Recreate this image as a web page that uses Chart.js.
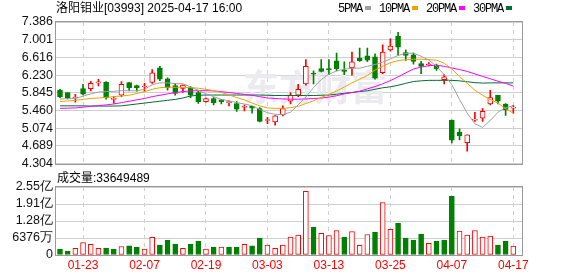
<!DOCTYPE html>
<html>
<head>
<meta charset="utf-8">
<title>洛阳钼业 K线</title>
<script src="https://cdn.jsdelivr.net/npm/chart.js@4.4.1/dist/chart.umd.min.js"></script>
<style>
  body { margin: 0; background: #fff; }
  #wrap { position: relative; width: 578px; height: 276px; overflow: hidden;
          font-family: 'Liberation Sans', Arial, 'Noto Sans CJK SC', sans-serif; color: #000; }
  #wrap canvas { position: absolute; left: 0; }
  #kline { top: 0; }
  #vol { top: 172px; }
  #title { position: absolute; left: 56px; top: 0; font-size: 12px; line-height: 16px; white-space: nowrap; }
  #volLabel { position: absolute; left: 57px; top: 170px; font-size: 12px; line-height: 16px; white-space: nowrap; }
  #legend { position: absolute; left: 338px; top: 1px; display: flex; gap: 8px;
            font-family: 'Liberation Mono', monospace; font-size: 12px; line-height: 16px; white-space: nowrap; }
  #legend span { letter-spacing: -1.2px; }
  #legend i { display: inline-block; width: 6px; height: 4px; margin-left: 3px; vertical-align: 2px; }
</style>
</head>
<body>
<div id="wrap">
  <canvas id="kline" width="578" height="174"></canvas>
  <canvas id="vol" width="578" height="104"></canvas>
  <div id="title"></div>
  <div id="legend"></div>
  <div id="volLabel"></div>
</div>
<script>
const stockTitle = '洛阳钼业[03993] 2025-04-17 16:00';

const dates = ['01-20','01-21','01-22','01-23','01-24','01-27','01-28',
  '02-03','02-04','02-05','02-06','02-07','02-10','02-11','02-12','02-13','02-14',
  '02-17','02-18','02-19','02-20','02-21','02-24','02-25','02-26','02-27','02-28',
  '03-03','03-04','03-05','03-06','03-07','03-10','03-11','03-12','03-13','03-14',
  '03-17','03-18','03-19','03-20','03-21','03-24','03-25','03-26','03-27','03-28','03-31',
  '04-01','04-02','04-03','04-07','04-08','04-09','04-10','04-11','04-14','04-15','04-16','04-17'];
const axisDates = ['01-23','02-07','02-19','03-03','03-13','03-25','04-07','04-17'];

const open = [5.905,5.85,5.73,5.936,5.936,6.06,6.07,5.70,5.791,6.065,
  6.00,5.97,6.07,6.39,6.15,6.00,5.94,5.96,5.85,5.65,
  5.72,5.69,5.63,5.61,5.53,5.548,5.50,5.24,5.21,5.36,
  5.66,5.79,6.04,6.27,6.37,6.36,6.54,6.33,6.39,6.60,
  6.65,6.63,6.28,6.78,7.08,6.72,6.67,6.48,6.45,6.44,
  6.13,5.25,4.99,4.76,5.25,5.29,5.60,5.79,5.60,5.51];
const high = [5.92,5.85,5.81,6.03,6.093,6.136,6.09,5.76,6.09,6.07,
  6.01,6.05,6.35,6.42,6.17,6.05,6.02,5.98,5.88,5.73,
  5.74,5.70,5.67,5.65,5.58,5.55,5.52,5.31,5.35,5.56,
  5.85,6.03,6.57,6.32,6.57,6.57,6.71,6.52,6.73,6.82,
  6.82,6.69,6.89,7.02,7.16,6.78,6.71,6.53,6.50,6.47,
  6.24,5.25,5.06,4.93,5.42,5.50,5.90,5.79,5.61,5.57];
const low = [5.74,5.71,5.64,5.80,5.884,5.992,5.705,5.61,5.76,5.884,
  5.88,5.88,6.05,6.11,5.90,5.79,5.85,5.74,5.61,5.64,
  5.58,5.60,5.56,5.44,5.45,5.40,5.21,5.17,5.14,5.34,
  5.60,5.76,6.01,6.04,6.30,6.24,6.32,6.24,6.23,6.53,
  6.52,6.14,6.26,6.75,6.66,6.55,6.47,6.26,6.43,6.33,
  6.04,4.75,4.82,4.57,5.22,5.22,5.58,5.60,5.35,5.40];
const close = [5.755,5.727,5.75,5.813,6.05,6.07,5.73,5.71,6.028,5.957,
  5.95,5.99,6.28,6.14,5.95,5.83,6.01,5.79,5.65,5.72,
  5.63,5.65,5.64,5.49,5.54,5.51,5.22,5.25,5.34,5.50,
  5.79,5.92,6.42,6.25,6.31,6.35,6.37,6.31,6.52,6.545,
  6.555,6.16,6.73,6.86,6.84,6.66,6.53,6.42,6.46,6.37,
  6.19,4.81,4.91,4.93,5.26,5.44,5.74,5.66,5.47,5.53];

const ma5 = [5.71,5.715,5.72,5.77,5.82,5.86,5.87,5.875,5.89,5.89,
  5.885,5.92,6.02,6.06,6.06,6.045,6.04,5.97,5.90,5.82,
  5.76,5.70,5.67,5.63,5.60,5.565,5.48,5.41,5.375,5.37,
  5.42,5.58,5.75,5.96,6.13,6.25,6.32,6.36,6.38,6.38,
  6.42,6.46,6.51,6.58,6.66,6.70,6.71,6.64,6.56,6.42,
  6.24,6.02,5.70,5.40,5.17,5.09,5.24,5.42,5.52,5.56];
const ma10 = [5.655,5.665,5.68,5.70,5.72,5.73,5.745,5.76,5.775,5.79,
  5.83,5.87,5.92,5.955,5.965,5.965,5.96,5.955,5.945,5.92,
  5.89,5.85,5.80,5.74,5.69,5.62,5.56,5.515,5.505,5.505,
  5.52,5.55,5.61,5.67,5.74,5.81,5.88,5.97,6.06,6.14,
  6.22,6.34,6.42,6.50,6.545,6.565,6.575,6.575,6.565,6.555,
  6.49,6.36,6.20,6.05,5.90,5.79,5.70,5.62,5.50,5.40];
const ma20 = [5.505,5.51,5.515,5.53,5.55,5.565,5.58,5.60,5.63,5.66,
  5.69,5.72,5.76,5.79,5.82,5.85,5.87,5.885,5.89,5.89,
  5.885,5.87,5.85,5.83,5.81,5.79,5.76,5.73,5.72,5.71,
  5.705,5.705,5.71,5.72,5.73,5.75,5.78,5.82,5.85,5.88,
  5.93,5.98,6.04,6.11,6.19,6.28,6.36,6.405,6.435,6.445,
  6.42,6.385,6.35,6.31,6.255,6.20,6.15,6.095,6.05,5.99];
const ma30 = [5.56,5.56,5.56,5.56,5.555,5.555,5.555,5.555,5.56,5.58,
  5.60,5.62,5.64,5.66,5.68,5.70,5.73,5.775,5.79,5.795,
  5.795,5.795,5.795,5.795,5.795,5.795,5.795,5.79,5.785,5.785,
  5.785,5.785,5.785,5.785,5.79,5.795,5.813,5.835,5.85,5.87,
  5.888,5.92,5.953,5.975,6.007,6.05,6.09,6.104,6.115,6.115,
  6.115,6.115,6.104,6.085,6.065,6.055,6.06,6.06,6.06,6.06];

const volume = [22e6,15e6,25e6,47e6,40e6,25e6,26e6,22e6,32e6,34e6,
  30e6,22e6,66e6,37e6,55e6,41e6,25e6,40e6,52e6,22e6,
  30e6,30e6,30e6,30e6,40e6,34e6,63e6,37e6,25e6,37e6,
  67e6,75e6,239e6,105e6,81e6,73e6,92e6,67e6,88e6,36e6,
  77e6,86e6,197e6,96e6,119e6,63e6,56e6,78e6,44e6,52e6,
  56e6,220e6,90e6,75e6,92e6,67e6,71e6,37e6,52e6,33649489];
const volumeUp = [0,0,1,1,1,1,0,0,1,0, 0,1,1,0,0,0,1,0,0,1,
  0,1,0,0,1,0,0,1,1,1, 1,1,1,0,1,1,1,0,1,1,
  1,0,1,1,0,0,0,0,1,0, 0,0,1,1,1,1,1,0,0,1];

const priceTicks = [4.304, 4.689, 5.074, 5.460, 5.845, 6.230, 6.616, 7.001, 7.386];
const priceTickLabels = ['4.304','4.689','5.074','5.460','5.845','6.230','6.616','7.001','7.386'];
const volumeTicks = [0, 63760000, 127520000, 191280000, 255040000];
const volumeTickLabels = ['0', '6376万', '1.28亿', '1.91亿', '2.55亿'];

const maNames = ['5PMA', '10PMA', '20PMA', '30PMA'];
const maColors = ['#a0a0a0', '#f2a000', '#ff00ff', '#006e33'];

const RED = '#ff0000';
const GREEN = '#008000';
const GRID = '#cfcfcf';

// header texts
document.getElementById('title').textContent = stockTitle;
document.getElementById('volLabel').textContent = '成交量:' + volume[volume.length - 1];
const legendBox = document.getElementById('legend');
maNames.forEach((name, k) => {
  const item = document.createElement('div');
  item.innerHTML = `<span>${name}</span><i style="background:${maColors[k]}"></i>`;
  legendBox.appendChild(item);
});

const axisIdx = axisDates.map(d => dates.indexOf(d));
const isUp = close.map((c, i) => c >= open[i]);
const xy = arr => arr.map((v, i) => ({ x: i, y: v }));

let xScale = (showLabels) => ({
  type: 'linear', min: -0.52, max: 60.13, offset: false,
  afterBuildTicks: s => { s.ticks = axisIdx.map(v => ({ value: v })); },
  grid: { color: GRID, drawTicks: false, offset: false },
  border: { display: false, dash: [4, 4] },
  ticks: {
    display: showLabels, color: RED, padding: 3, maxRotation: 0, autoSkip: false,
    font: { size: 12 }, callback: v => dates[v]
  }
});

let yScale = (min, max, tickVals, tickLabels) => ({
  min: min, max: max, beginAtZero: false,
  afterBuildTicks: s => { s.ticks = tickVals.map(v => ({ value: v })); },
  afterFit: s => { s.width = 56; },
  grid: { color: GRID, drawTicks: false },
  border: { display: false },
  ticks: { padding: 3, color: '#111', autoSkip: false, font: { size: 12.5 }, callback: (v, i) => tickLabels[i] }
});

const frame = {
  id: 'frame',
  afterDraw(chart) {
    const { ctx, chartArea: a } = chart;
    ctx.save();
    ctx.strokeStyle = '#999';
    ctx.lineWidth = 1;
    ctx.strokeRect(Math.round(a.left) - 0.5, Math.round(a.top) - 0.5,
      Math.round(a.right - a.left) + 1, Math.round(a.bottom - a.top) + 1);
    ctx.restore();
  }
};

const watermark = {
  id: 'watermark',
  beforeDatasetsDraw(chart) {
    const ctx = chart.ctx;
    ctx.save();
    ctx.fillStyle = '#eaeaef';
    ctx.font = 'bold 36px "Noto Sans CJK SC"';
    ctx.textBaseline = 'middle';
    ctx.fillText('东方财富', 243, 87);
    ctx.restore();
  }
};

const maSets = [ma5, ma10, ma20, ma30].map((arr, k) => ({
  type: 'line', label: maNames[k], data: xy(arr),
  borderColor: maColors[k], borderWidth: 1, pointRadius: 0, tension: 0, order: 0
}));

new Chart(document.getElementById('kline'), {
  type: 'bar',
  data: {
    datasets: [
      ...maSets,
      {
        label: 'body', order: 1, grouped: false, barThickness: 5, minBarLength: 1,
        borderSkipped: false, borderWidth: 1,
        data: open.map((o, i) => ({ x: i, y: [o, close[i]] })),
        backgroundColor: isUp.map(u => u ? '#ffffff' : GREEN),
        borderColor: isUp.map(u => u ? RED : GREEN)
      },
      {
        label: 'wick', order: 2, grouped: false, barThickness: 1, borderWidth: 0,
        data: low.map((l, i) => ({ x: i, y: [l, high[i]] })),
        backgroundColor: isUp.map(u => u ? RED : GREEN)
      }
    ]
  },
  options: {
    responsive: false, animation: false, devicePixelRatio: 1,
    layout: { padding: { top: 22, right: 56, bottom: 9, left: 0 } },
    plugins: { legend: { display: false }, tooltip: { enabled: false } },
    scales: {
      x: xScale(false),
      y: yScale(4.304, 7.386, priceTicks, priceTickLabels)
    }
  },
  plugins: [watermark, frame]
});

new Chart(document.getElementById('vol'), {
  type: 'bar',
  data: {
    datasets: [{
      label: 'volume', barThickness: 5, borderSkipped: false, borderWidth: 1,
      data: xy(volume),
      backgroundColor: volumeUp.map(u => u ? '#ffffff' : GREEN),
      borderColor: volumeUp.map(u => u ? RED : GREEN)
    }]
  },
  options: {
    responsive: false, animation: false, devicePixelRatio: 1,
    layout: { padding: { top: 15, right: 56, bottom: 0, left: 0 } },
    plugins: { legend: { display: false }, tooltip: { enabled: false } },
    scales: {
      x: Object.assign(xScale(true), { afterFit: s => { s.height = 21; } }),
      y: yScale(0, 255040000, volumeTicks, volumeTickLabels)
    }
  },
  plugins: [frame]
});
</script>
</body>
</html>
